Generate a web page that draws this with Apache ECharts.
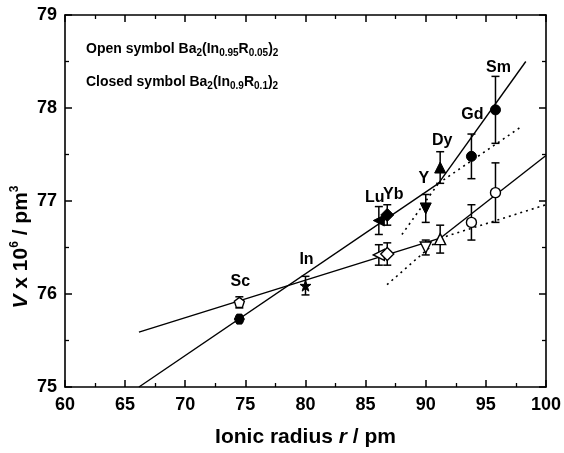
<!DOCTYPE html>
<html>
<head>
<meta charset="utf-8">
<script src="https://cdn.jsdelivr.net/npm/echarts@6/dist/echarts.min.js"></script>
<style>
  html, body { margin: 0; padding: 0; background: #fff; }
  #chart { width: 564px; height: 453px; }
</style>
</head>
<body>
<div id="chart"></div>
<script>
// Unit-cell volume vs. ionic radius of the dopant R
const elements  = ['Sc', 'In', 'Lu', 'Yb', 'Y', 'Dy', 'Gd', 'Sm'];
const radius    = [74.5, 80.0, 86.1, 86.8, 90.0, 91.2, 93.8, 95.8];
// Ba2(In0.9R0.1)2 – closed symbols
const volClosed = [75.73, 76.09, 76.79, 76.85, 76.92, 77.36, 77.48, 77.98];
const errClosed = [0.03, 0.10, 0.15, 0.11, 0.15, 0.17, 0.24, 0.36];
// Ba2(In0.95R0.05)2 – open symbols (In is the undoped parent, shown once)
const volOpen   = [75.91, null, 76.42, 76.43, 76.50, 76.59, 76.77, 77.09];
const errOpen   = [0.06, null, 0.11, 0.12, 0.08, 0.15, 0.19, 0.32];

// Linear fits: [[x0, y0], [x1, y1]]
const fitClosedLow   = [[66.15, 75.00], [91.06, 77.19]];
const fitClosedHigh  = [[91.06, 77.19], [98.32, 78.50]];
const extClosedLow   = [[91.06, 77.19], [97.96, 77.80]];
const extClosedHigh  = [[88.02, 76.64], [91.06, 77.19]];
const fitOpenLow     = [[66.15, 75.59], [91.20, 76.60]];
const fitOpenHigh    = [[91.20, 76.60], [100.0, 77.49]];
const extOpenLow     = [[91.20, 76.60], [100.0, 76.96]];
const extOpenHigh    = [[86.78, 76.10], [91.20, 76.60]];

// Marker shapes per element
const P_STAR = 'path://M50,0 L61,35 L98,35 L68,57 L79,91 L50,70 L21,91 L32,57 L2,35 L39,35 Z';
const P_PENT = 'path://M50,0 L98,35 L79,91 L21,91 L2,35 Z';
const P_HEX  = 'path://M25,0 L75,0 L100,50 L75,100 L25,100 L0,50 Z';
const markStyle = {
  Sc: { closed: P_HEX, open: P_PENT, rot: 0, size: 10 },
  In: { closed: P_STAR, open: P_STAR, rot: 0, size: 11 },
  Lu: { closed: 'triangle', open: 'triangle', rot: 90, size: 11 },
  Yb: { closed: 'diamond', open: 'diamond', rot: 0, size: 13 },
  Y:  { closed: 'triangle', open: 'triangle', rot: 180, size: 11 },
  Dy: { closed: 'triangle', open: 'triangle', rot: 0, size: 11 },
  Gd: { closed: 'circle', open: 'circle', rot: 0, size: 10 },
  Sm: { closed: 'circle', open: 'circle', rot: 0, size: 10 }
};
// Element label offsets [dx, dy] above the highest error cap
const labelOffset = {
  Sc: [1, -1], In: [1, -3], Lu: [-4, 5], Yb: [6, 4],
  Y: [-2, -2], Dy: [2, 3], Gd: [1, -5], Sm: [3, 5]
};

const FONT = 'Liberation Sans, Arial, Helvetica, sans-serif';

function pointsData(vals, kind) {
  const out = [];
  vals.forEach((v, i) => {
    if (v == null) return;
    const st = markStyle[elements[i]];
    out.push({
      value: [radius[i], v],
      symbol: st[kind],
      symbolRotate: st.rot,
      symbolSize: st.size
    });
  });
  return out;
}

function errData(vals, errs) {
  const out = [];
  vals.forEach((v, i) => {
    if (v == null) return;
    out.push([radius[i], v, errs[i]]);
  });
  return out;
}

const labelData = elements.map((el, i) => {
  const tops = [volClosed[i] + errClosed[i]];
  if (volOpen[i] != null) tops.push(volOpen[i] + errOpen[i]);
  return {
    value: [radius[i], Math.max.apply(null, tops)],
    label: { offset: labelOffset[el] }
  };
});

function errorBar(params, api) {
  const x = api.value(0), y = api.value(1), e = api.value(2);
  const hi = api.coord([x, y + e]);
  const lo = api.coord([x, y - e]);
  const w = 4;
  const st = { stroke: '#000', lineWidth: 1.5 };
  return {
    type: 'group',
    children: [
      { type: 'line', shape: { x1: hi[0], y1: hi[1], x2: lo[0], y2: lo[1] }, style: st },
      { type: 'line', shape: { x1: hi[0] - w, y1: hi[1], x2: hi[0] + w, y2: hi[1] }, style: st },
      { type: 'line', shape: { x1: lo[0] - w, y1: lo[1], x2: lo[0] + w, y2: lo[1] }, style: st }
    ]
  };
}

function fitLine(data, dotted) {
  return {
    type: 'line',
    data: data,
    symbol: 'none',
    silent: true,
    z: 1,
    lineStyle: { color: '#000', width: dotted ? 1.6 : 1.4, type: dotted ? [2, 4] : 'solid' }
  };
}

const axisCommon = {
  axisLine: { onZero: false, lineStyle: { color: '#000', width: 1.6 } },
  axisTick: { inside: true, length: 7, lineStyle: { color: '#000', width: 1.5 } },
  minorTick: { show: true, splitNumber: 2, length: 4, lineStyle: { color: '#000', width: 1.3 } },
  splitLine: { show: false }
};

const chart = echarts.init(document.getElementById('chart'));
chart.setOption({
  animation: false,
  backgroundColor: '#fff',
  grid: { left: 65, right: 16, top: 15, bottom: 63 },
  xAxis: [
    Object.assign({
      type: 'value', min: 60, max: 100, interval: 5, position: 'bottom',
      axisLabel: { color: '#000', fontFamily: FONT, fontWeight: 'bold', fontSize: 18, margin: 9 },
      name: '{t|Ionic radius }{i|r}{t| / pm}',
      nameLocation: 'middle', nameGap: 40,
      nameTextStyle: {
        rich: {
          t: { fontFamily: FONT, fontWeight: 'bold', fontSize: 21, color: '#000' },
          i: { fontFamily: FONT, fontWeight: 'bold', fontStyle: 'italic', fontSize: 21, color: '#000' }
        }
      }
    }, axisCommon),
    Object.assign({
      type: 'value', min: 60, max: 100, interval: 5, position: 'top',
      axisLabel: { show: false }
    }, axisCommon)
  ],
  yAxis: [
    Object.assign({
      type: 'value', min: 75, max: 79, interval: 1, position: 'left',
      axisLabel: { color: '#000', fontFamily: FONT, fontWeight: 'bold', fontSize: 18, margin: 8 }
    }, axisCommon),
    Object.assign({
      type: 'value', min: 75, max: 79, interval: 1, position: 'right',
      axisLabel: { show: false }
    }, axisCommon)
  ],
  graphic: [
    {
      type: 'text', x: 21, y: 247, rotation: Math.PI / 2,
      style: {
        text: '{i|V}{t| x 10}{sup|6}{t| / pm}{sup|3}',
        align: 'center', verticalAlign: 'middle',
        rich: {
          t: { fontFamily: FONT, fontWeight: 'bold', fontSize: 21, fill: '#000' },
          i: { fontFamily: FONT, fontWeight: 'bold', fontStyle: 'italic', fontSize: 21, fill: '#000' },
          sup: { fontFamily: FONT, fontWeight: 'bold', fontSize: 12, fill: '#000', padding: [0, 0, 12, 0] }
        }
      }
    },
    {
      type: 'text', x: 86, y: 49,
      style: {
        text: '{t|Open symbol Ba}{s|2}{t|(In}{s|0.95}{t|R}{s|0.05}{t|)}{s|2}',
        verticalAlign: 'middle',
        rich: {
          t: { fontFamily: FONT, fontWeight: 'bold', fontSize: 14, fill: '#000' },
          s: { fontFamily: FONT, fontWeight: 'bold', fontSize: 10, fill: '#000', padding: [8, 0, 0, 0] }
        }
      }
    },
    {
      type: 'text', x: 86, y: 82,
      style: {
        text: '{t|Closed symbol Ba}{s|2}{t|(In}{s|0.9}{t|R}{s|0.1}{t|)}{s|2}',
        verticalAlign: 'middle',
        rich: {
          t: { fontFamily: FONT, fontWeight: 'bold', fontSize: 14, fill: '#000' },
          s: { fontFamily: FONT, fontWeight: 'bold', fontSize: 10, fill: '#000', padding: [8, 0, 0, 0] }
        }
      }
    }
  ],
  series: [
    fitLine(fitClosedLow, false),
    fitLine(fitClosedHigh, false),
    fitLine(extClosedLow, true),
    fitLine(extClosedHigh, true),
    fitLine(fitOpenLow, false),
    fitLine(fitOpenHigh, false),
    fitLine(extOpenLow, true),
    fitLine(extOpenHigh, true),
    { type: 'custom', renderItem: errorBar, data: errData(volClosed, errClosed), z: 2, silent: true },
    { type: 'custom', renderItem: errorBar, data: errData(volOpen, errOpen), z: 2, silent: true },
    {
      type: 'scatter', data: pointsData(volOpen, 'open'), z: 3, silent: true,
      itemStyle: { color: '#fff', borderColor: '#000', borderWidth: 1.4, opacity: 1 }
    },
    {
      type: 'scatter', data: pointsData(volClosed, 'closed'), z: 4, silent: true,
      itemStyle: { color: '#000', borderColor: '#000', borderWidth: 1, opacity: 1 }
    },
    {
      type: 'scatter', data: labelData, symbolSize: 0, z: 5, silent: true,
      itemStyle: { opacity: 1, color: '#000' },
      label: {
        show: true, position: 'top', distance: 6,
        formatter: p => elements[p.dataIndex],
        color: '#000', fontFamily: FONT, fontWeight: 'bold', fontSize: 16
      }
    }
  ]
});
</script>
</body>
</html>
